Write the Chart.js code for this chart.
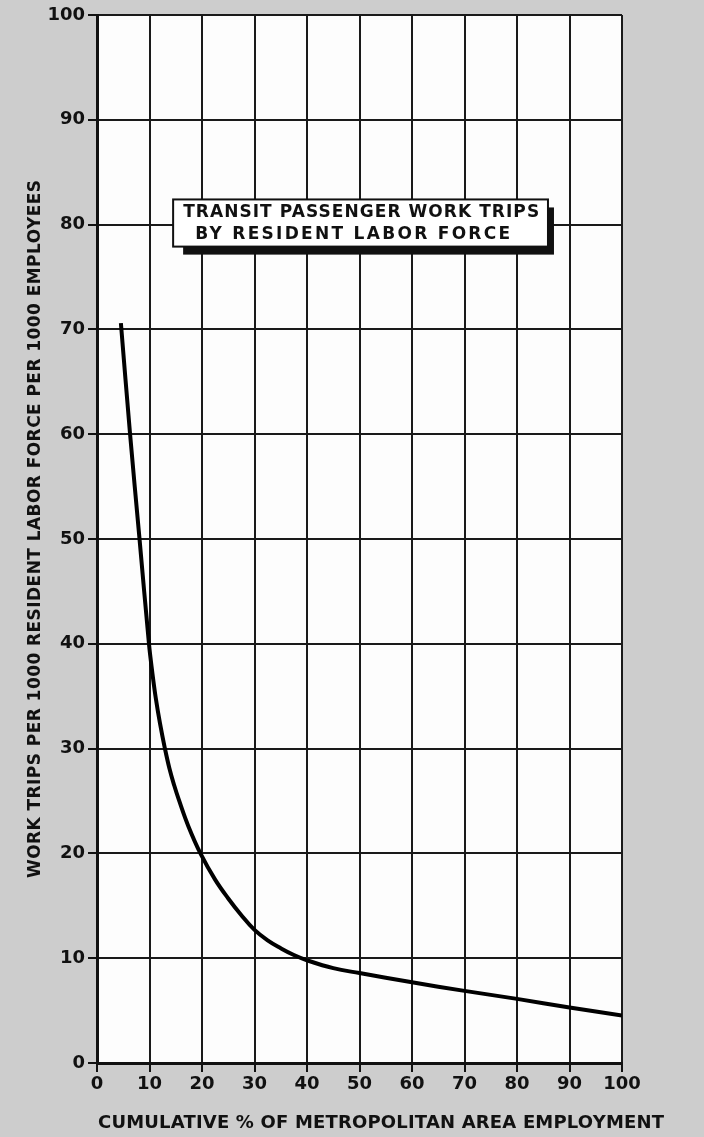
<!DOCTYPE html>
<html>
<head>
<meta charset="utf-8">
<script src="https://cdn.jsdelivr.net/npm/chart.js@4"></script>
<style>
  html, body { margin: 0; padding: 0; background: #cdcdcd; }
  canvas { display: block; }
</style>
</head>
<body>
<canvas id="c" width="704" height="1137"></canvas>
<script>
// Cumulative % of metropolitan area employment (x) vs. work trips per 1000 (y)
const employmentPct = [4.55, 6.3, 8.1, 9.9, 10.5, 11.2, 12.0, 12.9, 13.8, 14.7, 15.6, 17.4, 19.8,
  22.5, 25, 27.5, 30, 32.5, 35, 37.5, 40, 45, 50, 60, 70, 80, 90, 100];
const tripsPer1000 = [70.6, 60, 50, 40, 37.4, 34.8, 32.4, 30.1, 28.1, 26.5, 25.1, 22.6, 19.9,
  17.5, 15.7, 14.1, 12.7, 11.7, 10.95, 10.3, 9.8, 9.05, 8.58, 7.7, 6.88, 6.12, 5.3, 4.53];
const xTicks = [0, 10, 20, 30, 40, 50, 60, 70, 80, 90, 100];
const yTicks = [0, 10, 20, 30, 40, 50, 60, 70, 80, 90, 100];

const xTitle = 'CUMULATIVE % OF METROPOLITAN AREA EMPLOYMENT';
const yTitle = 'WORK TRIPS PER 1000 RESIDENT LABOR FORCE PER 1000 EMPLOYEES';
const boxLines = ['TRANSIT PASSENGER WORK TRIPS', 'BY RESIDENT LABOR FORCE'];

const FONT = '"DejaVu Sans", "Liberation Sans", sans-serif';
const BG = '#cdcdcd';
const INK = '#111';

// Draw text stretched to a given width via letter spacing, starting at x
function spacedText(ctx, text, x, y, width) {
  ctx.letterSpacing = '0px';
  const w = ctx.measureText(text).width;
  const ls = (width - w) / (text.length - 1);
  ctx.letterSpacing = ls + 'px';
  ctx.textAlign = 'left';
  ctx.fillText(text, x, y);
  ctx.letterSpacing = '0px';
}

const paperPlugin = {
  id: 'paper',
  beforeDraw(chart) {
    const { ctx, chartArea: a } = chart;
    ctx.save();
    ctx.fillStyle = BG;
    ctx.fillRect(0, 0, chart.width, chart.height);
    ctx.fillStyle = '#fdfdfd';
    ctx.fillRect(a.left, a.top, a.right - a.left, a.bottom - a.top);
    ctx.restore();
  }
};

const labelBoxPlugin = {
  id: 'labelBox',
  afterDatasetsDraw(chart) {
    const { ctx, scales: { x, y } } = chart;
    const l = x.getPixelForValue(14.5), r = x.getPixelForValue(85.9);
    const t = y.getPixelForValue(82.4), b = y.getPixelForValue(77.9);
    ctx.save();
    // drop shadow
    ctx.fillStyle = INK;
    ctx.fillRect(l + 10, t + 8, r - l - 4, b - t);
    // white box
    ctx.fillStyle = '#fff';
    ctx.fillRect(l, t, r - l, b - t);
    ctx.lineWidth = 2;
    ctx.strokeStyle = INK;
    ctx.strokeRect(l, t, r - l, b - t);
    ctx.fillStyle = INK;
    ctx.font = 'bold 17px ' + FONT;
    ctx.textBaseline = 'middle';
    spacedText(ctx, boxLines[0], l + 10, t + 13, 356);
    spacedText(ctx, boxLines[1], l + 22, t + 35, 315);
    ctx.restore();
  }
};

const axisTitlePlugin = {
  id: 'axisTitles',
  afterDraw(chart) {
    const { ctx } = chart;
    ctx.save();
    ctx.fillStyle = INK;
    ctx.textBaseline = 'middle';
    ctx.font = 'bold 18px ' + FONT;
    spacedText(ctx, xTitle, 98, 1123, 566);
    ctx.translate(36, 878);
    ctx.rotate(-Math.PI / 2);
    ctx.font = 'bold 17px ' + FONT;
    spacedText(ctx, yTitle, 0, 0, 698);
    ctx.restore();
  }
};

new Chart(document.getElementById('c'), {
  type: 'line',
  data: {
    datasets: [{
      data: employmentPct.map((v, i) => ({ x: v, y: tripsPer1000[i] })),
      borderColor: '#000',
      borderWidth: 4,
      pointRadius: 0,
      tension: 0.4,
      fill: false
    }]
  },
  options: {
    responsive: false,
    animation: false,
    devicePixelRatio: 1,
    layout: { padding: { top: 15, right: 82, bottom: 0, left: 0 } },
    plugins: { legend: { display: false }, tooltip: { enabled: false } },
    scales: {
      x: {
        type: 'linear',
        min: 0, max: 100,
        afterBuildTicks(s) { s.ticks = xTicks.map(v => ({ value: v })); },
        afterFit(s) { s.height = 74; },
        grid: { color: '#1a1a1a', lineWidth: 2, tickLength: 9, tickColor: INK, tickWidth: 2 },
        border: { color: INK, width: 3 },
        ticks: { color: INK, padding: 2, maxRotation: 0, font: { family: FONT, size: 18, weight: 'bold' } }
      },
      y: {
        type: 'linear',
        min: 0, max: 100,
        afterBuildTicks(s) { s.ticks = yTicks.map(v => ({ value: v })); },
        afterFit(s) { s.width = 97; },
        grid: { color: '#1a1a1a', lineWidth: 2, tickLength: 9, tickColor: INK, tickWidth: 2 },
        border: { color: INK, width: 3 },
        ticks: { color: INK, padding: 3, font: { family: FONT, size: 18, weight: 'bold' } }
      }
    }
  },
  plugins: [paperPlugin, labelBoxPlugin, axisTitlePlugin]
});
</script>
</body>
</html>
